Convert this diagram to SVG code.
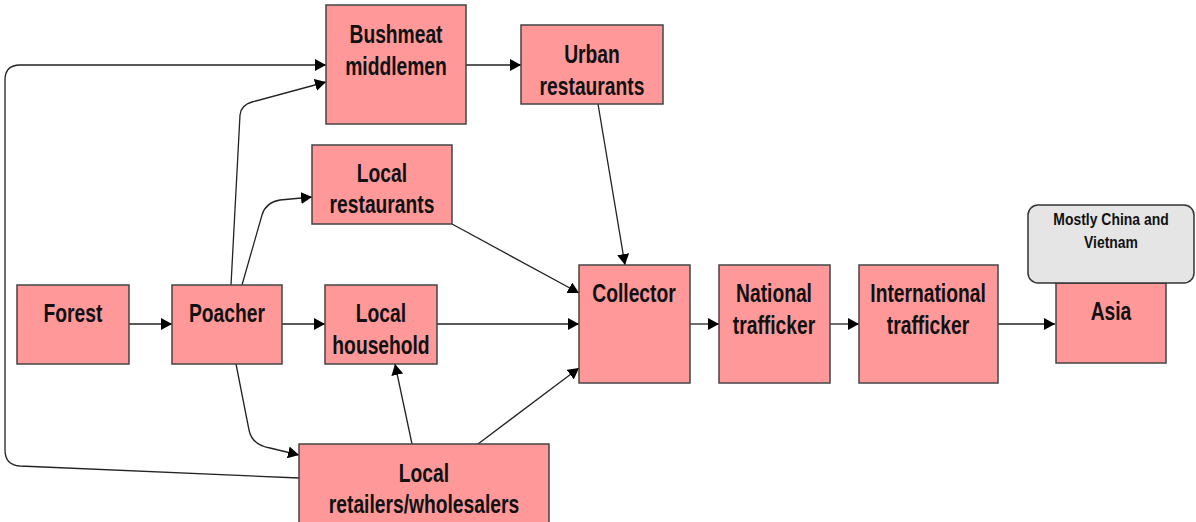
<svg xmlns="http://www.w3.org/2000/svg" width="1196" height="522" viewBox="0 0 1196 522">
<defs>
<marker id="ah" markerUnits="userSpaceOnUse" markerWidth="12" markerHeight="12" refX="11" refY="6" orient="auto">
<path d="M0,0 L11,6 L0,12 z" fill="#000"/>
</marker>
<style>
.n{fill:#ff9999;stroke:#444;stroke-width:1.5}
.g{fill:#e5e5e5;stroke:#333;stroke-width:1.5}
.t{font-family:"Liberation Sans",Arial,sans-serif;font-weight:bold;font-size:25px;fill:#111;text-anchor:middle}
.s{font-family:"Liberation Sans",Arial,sans-serif;font-weight:bold;font-size:17px;fill:#111;text-anchor:middle}
.c{fill:none;stroke:#222;stroke-width:1.3;marker-end:url(#ah)}
</style>
</defs>
<rect width="1196" height="522" fill="#fff"/>
<g id="connectors">
<path class="c" d="M129,324 L172,324"/>
<path class="c" d="M282,324 L325,324"/>
<path class="c" d="M437,324 L579,324"/>
<path class="c" d="M690,324 L719,324"/>
<path class="c" d="M830,324 L859,324"/>
<path class="c" d="M998,324 L1055,324"/>
<path class="c" d="M466,65 L521,65"/>
<path class="c" d="M598,104 L625,265"/>
<path class="c" d="M452,224 L579,293"/>
<path class="c" d="M478,444 L579,368"/>
<path class="c" d="M412,444 L395,364"/>
<path class="c" d="M231,285 L240,115 Q241,105 252,102 L326,82"/>
<path class="c" d="M242,285 L262,215 Q266,202 280,200 L312,197"/>
<path class="c" d="M236,364 L249,430 Q252,445 270,448 L299,455"/>
<path class="c" d="M299,478 L20,466 Q5,465 5,450 L5,80 Q5,65 20,65 L326,65"/>
</g>
<g id="bushmeat"><rect class="n" x="326" y="5" width="140" height="119"/>
<text class="t" transform="translate(396,0) scale(0.77,1)"><tspan x="0" y="43">Bushmeat</tspan><tspan x="0" y="75">middlemen</tspan></text></g>
<g id="urban"><rect class="n" x="521" y="25" width="142" height="79"/>
<text class="t" transform="translate(592,0) scale(0.77,1)"><tspan x="0" y="63">Urban</tspan><tspan x="0" y="95">restaurants</tspan></text></g>
<g id="localrest"><rect class="n" x="312" y="145" width="140" height="79"/>
<text class="t" transform="translate(382,0) scale(0.77,1)"><tspan x="0" y="182">Local</tspan><tspan x="0" y="213">restaurants</tspan></text></g>
<g id="forest"><rect class="n" x="17" y="285" width="112" height="79"/>
<text class="t" transform="translate(73,0) scale(0.77,1)"><tspan x="0" y="322">Forest</tspan></text></g>
<g id="poacher"><rect class="n" x="172" y="285" width="110" height="79"/>
<text class="t" transform="translate(227,0) scale(0.77,1)"><tspan x="0" y="322">Poacher</tspan></text></g>
<g id="household"><rect class="n" x="325" y="285" width="112" height="79"/>
<text class="t" transform="translate(381,0) scale(0.77,1)"><tspan x="0" y="322">Local</tspan><tspan x="0" y="354">household</tspan></text></g>
<g id="retailers"><rect class="n" x="299" y="444" width="250" height="90"/>
<text class="t" transform="translate(424,0) scale(0.77,1)"><tspan x="0" y="482">Local</tspan><tspan x="0" y="513">retailers/wholesalers</tspan></text></g>
<g id="collector"><rect class="n" x="579" y="265" width="111" height="118"/>
<text class="t" transform="translate(634,0) scale(0.77,1)"><tspan x="0" y="302">Collector</tspan></text></g>
<g id="national"><rect class="n" x="719" y="265" width="111" height="118"/>
<text class="t" transform="translate(774,0) scale(0.77,1)"><tspan x="0" y="302">National</tspan><tspan x="0" y="334">trafficker</tspan></text></g>
<g id="international"><rect class="n" x="859" y="265" width="139" height="118"/>
<text class="t" transform="translate(928,0) scale(0.77,1)"><tspan x="0" y="302">International</tspan><tspan x="0" y="334">trafficker</tspan></text></g>
<g id="asia"><rect class="n" x="1056" y="283" width="110" height="80"/>
<text class="t" transform="translate(1111,0) scale(0.77,1)"><tspan x="0" y="320">Asia</tspan></text></g>
<g id="note"><rect class="g" x="1028" y="205" width="166" height="78" rx="10"/>
<text class="s" transform="translate(1111,0) scale(0.82,1)"><tspan x="0" y="225">Mostly China and</tspan><tspan x="0" y="248">Vietnam</tspan></text></g>
</svg>
